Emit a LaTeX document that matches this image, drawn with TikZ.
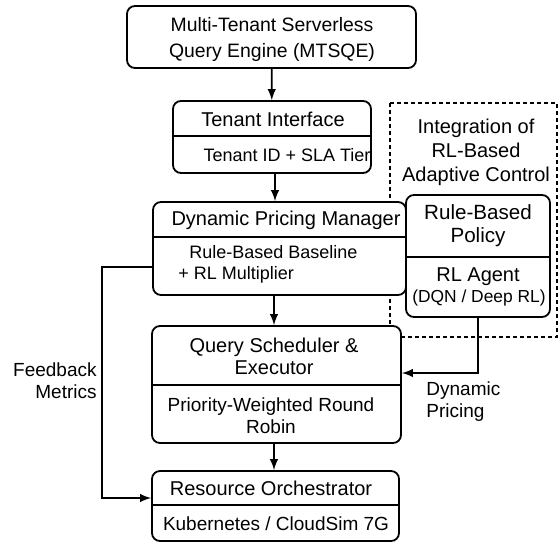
\documentclass[tikz,border=0pt]{standalone}
\usepackage{fontspec}
\setmainfont{Liberation Sans}
\usetikzlibrary{fit}
\tikzset{
	block/.style   = {shape=rectangle, rounded corners=4pt, draw, fill=white,
		line width=0.9pt, inner sep=0pt},
	head/.style    = {align=center, inner sep=0pt, font=\fontsize{10}{13}\selectfont},
	body/.style    = {align=center, inner sep=0pt, font=\fontsize{9}{10.5}\selectfont},
	divider/.style = {draw, line width=0.9pt},
	flow/.style    = {draw, line width=0.9pt, -latex},
	zone/.style    = {draw, line width=0.6pt, dash pattern=on 2pt off 1.5pt}
}

\begin{document}
\begin{tikzpicture}[x=0.5pt, y=-0.5pt]
\useasboundingbox (0,0) rectangle (560,542);
\draw[zone] (390,103) rectangle (557,337);
\node[head, font=\fontsize{10}{12}\selectfont] (zonetxt) at (476,152) {Integration of\\RL-Based\\Adaptive Control};

\node[block, fit={(127,6) (416,68)}] (mtsqe) {};
\node[head, font=\fontsize{9.7}{13}\selectfont] (mtsqetxt) at (272,39) {Multi-Tenant Serverless\\Query Engine (MTSQE)};

\node[block, fit={(173,101) (371,173)}] (tenant) {};
\draw[divider] (173,136) -- (371,136);
\node[head] (tenanthd) at (273,119) {Tenant Interface};
\node[body] (tenantbd) at (287,155) {Tenant ID + SLA Tier};

\node[block, fit={(153,202) (406,295)}] (dpm) {};
\draw[divider] (153,237) -- (406,237);
\node[head] (dpmhd) at (286,220) {Dynamic Pricing Manager};
\node[body, align=left, anchor=north west] (dpmbd) at (178,245) {\hspace{5.5pt}Rule-Based Baseline\\+ RL Multiplier};

\node[block, fit={(406,195) (550,317)}] (rule) {};
\draw[divider] (406,257) -- (550,257);
\node[body, font=\fontsize{10.3}{11.5}\selectfont] (rulehd) at (478,226) {Rule-Based\\Policy};
\node[body, font=\fontsize{10}{10.5}\selectfont] (rlagent) at (478,277) {RL Agent};
\node[body, font=\fontsize{8.7}{10}\selectfont] (dqn) at (479,298) {(DQN / Deep RL)};

\node[block, fit={(152,326) (401,443)}] (qs) {};
\draw[divider] (152,385) -- (401,385);
\node[head, font=\fontsize{10}{11}\selectfont] (qshd) at (274,356) {Query Scheduler \&\\Executor};
\node[body, font=\fontsize{9.5}{11}\selectfont] (qsbd) at (271,416) {Priority-Weighted Round\\Robin};

\node[block, fit={(152,471) (399,541)}] (ro) {};
\draw[divider] (152,505) -- (399,505);
\node[head] (rohd) at (271,488) {Resource Orchestrator};
\node[body, font=\fontsize{9.5}{11}\selectfont] (robd) at (276,524) {Kubernetes / CloudSim 7G};

\draw[flow] (mtsqe) -- (tenant);
\draw[flow] (tenant.south -| 275,0) -- (dpm.north -| 275,0);
\draw[flow] (dpm.south -| 274,0) -- (qs.north -| 274,0);
\draw[flow] (qs.south -| 274,0) -- (ro.north -| 274,0);

\coordinate (fbtop) at (102,267);
\coordinate (fbbot) at (102,498);
\draw[flow] (dpm.west |- fbtop) -- (fbtop) -- (fbbot) -- (ro.west |- fbbot);
\node[body, align=right, anchor=east, font=\fontsize{9.5}{11}\selectfont] (fbtxt) at (97,381) {Feedback\\Metrics};

\coordinate (dpbend) at (478,373);
\draw[flow] (rule.south) -- (dpbend) -- (qs.east |- dpbend);
\node[body, align=left, anchor=west, font=\fontsize{9.5}{11}\selectfont] (dptxt) at (426,402) {Dynamic\\Pricing};
\end{tikzpicture}
\end{document}
